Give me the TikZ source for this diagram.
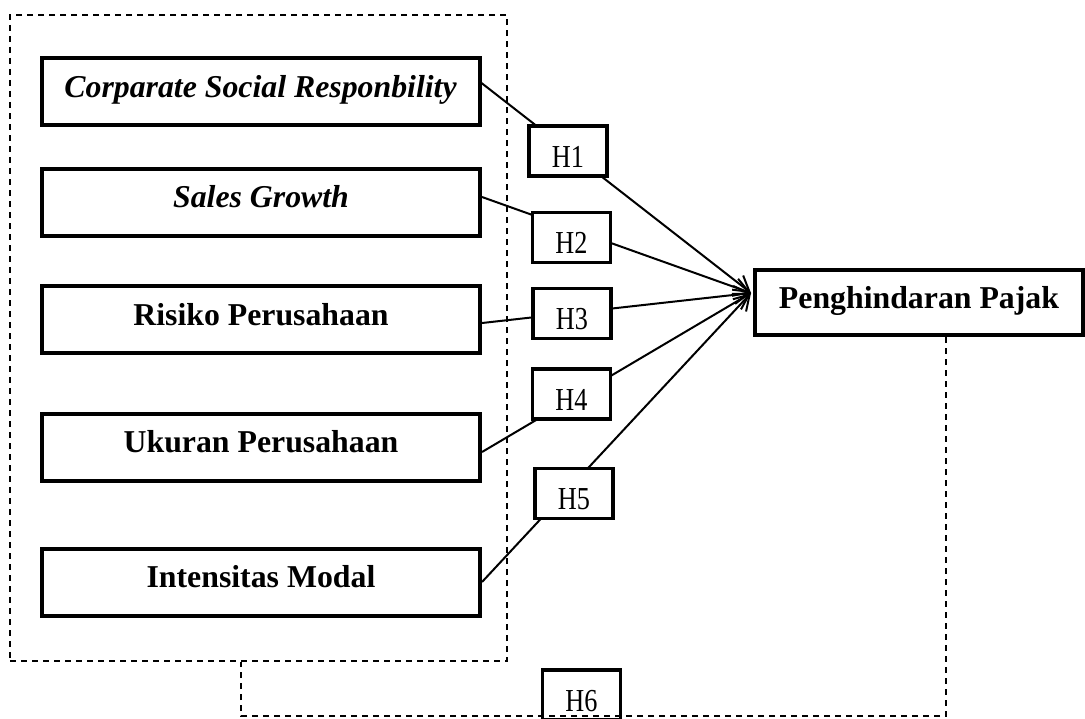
\documentclass[tikz,border=0pt]{standalone}
\usepackage{fontspec}
\setmainfont{Liberation Serif}
\newfontfamily\hfont[FakeStretch=0.82]{Liberation Serif}
\usetikzlibrary{arrows.meta}
\tikzset{
  varbox/.style={draw, line width=2pt, minimum width=219pt, minimum height=33.5pt,
    inner sep=0pt, font=\fontsize{15.9pt}{19pt}\selectfont\bfseries,
    text height=11pt, text depth=5.1pt},
  hbox/.style={draw, line width=1.8pt, fill=white, minimum width=39pt, minimum height=25pt,
    inner sep=0pt, font=\hfont\fontsize{16pt}{19pt}\selectfont,
    text height=16pt, text depth=0pt},
  link/.style={line width=1pt, -{Straight Barb[length=7.5pt,width=9pt,line width=1pt]}},
  dashline/.style={line width=0.85pt, dash pattern=on 3.2pt off 2.3pt},
}
\begin{document}
\begin{tikzpicture}[x=0.5pt,y=-0.5pt]
\clip (0,0) rectangle (1085,718);
\fill[white] (0,0) rectangle (1085,718);

% dashed group frame
\node[dashline, draw, minimum width=248.5pt, minimum height=323pt, inner sep=0pt] (grp) at (258.5,338) {};

% variable boxes
\node[varbox] (csr) at (260.5,91.5) {\itshape Corparate Social Responbility};
\node[varbox] (sg)  at (261,202)    {\itshape Sales Growth};
\node[varbox] (rp)  at (261,319.5)  {Risiko Perusahaan};
\node[varbox] (up)  at (261,447)    {Ukuran Perusahaan};
\node[varbox] (im)  at (261,582)    {Intensitas Modal};

\node[varbox, minimum width=164pt, minimum height=32.5pt] (dv) at (919,302.5) {Penghindaran Pajak};
\coordinate (tip) at ([xshift=-1pt,yshift=4.75pt]dv.west);

% connectors
\draw[link] ([yshift=4.25pt]csr.east) -- (tip);
\draw[link] ([yshift=2.5pt]sg.east) -- (tip);
\draw[link] ([yshift=-1.75pt]rp.east) -- (tip);
\draw[link] ([yshift=-2.5pt]up.east) -- (tip);
\draw[link] (im.east) -- (tip);

% hypothesis labels
\node[hbox] (h1) at (568,151)   {H1};
\node[hbox] (h2) at (571.5,237.5) {H2};
\node[hbox] (h3) at (572,313.5) {H3};
\node[hbox] (h4) at (571.5,394) {H4};
\node[hbox] (h5) at (574,493.5) {H5};
\node[hbox, fill=none] (h6) at (581.5,695) {H6};

% moderation dashed path
\draw[dashline] (dv.south -| 946,0) -- (946,716) -- (241,716) -- (grp.south -| 241,0);
\end{tikzpicture}
\end{document}
